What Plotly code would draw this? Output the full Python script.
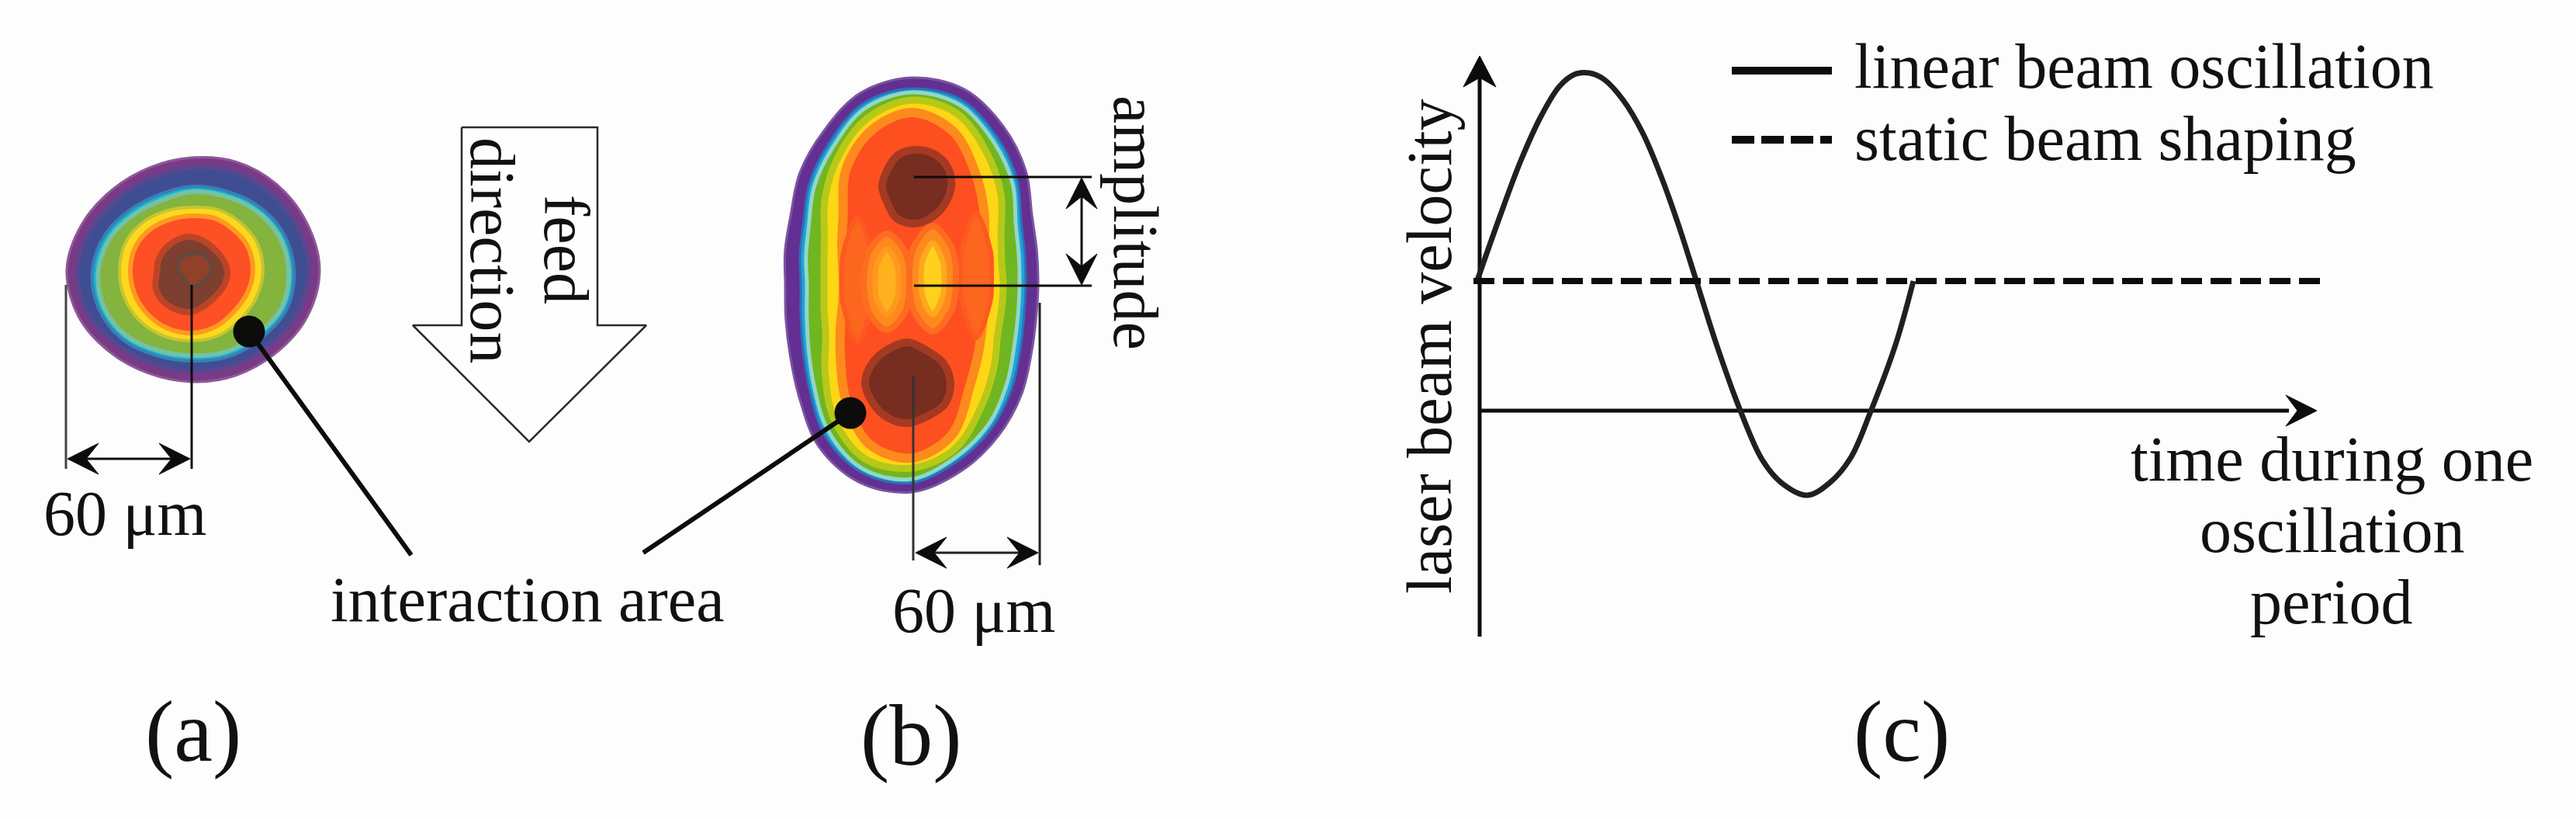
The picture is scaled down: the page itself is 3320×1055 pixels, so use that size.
import numpy as np
import plotly.graph_objects as go

W = 3320
H = 1055
BG = '#fefdfd'
INK = '#0c0c0a'
FONT = 'Liberation Serif'

# spot (a): radii of each colour band, read every 22.5 deg clockwise from east
A_CENTER = (247, 347)
A_PURPLE = [165, 161, 153, 148, 145, 145, 150, 158, 161, 153, 145, 142, 144, 150, 155, 160]
A_BLUE = [152, 148, 140, 135, 132, 132, 137, 146, 148, 140, 132, 129, 131, 137, 142, 147]
A_CYAN = [132, 133, 126, 122, 118, 120, 127, 130, 128, 120, 110, 105, 107, 110, 118, 127]
A_GREEN = [125, 126, 119, 115, 111, 113, 120, 123, 120, 112, 102, 97, 100, 103, 111, 120]
A_YELLOW = [92, 91, 90, 92, 92, 93, 94, 94, 93, 92, 87, 82, 80, 84, 87, 91]
A_RED = [79, 78, 77, 80, 82, 82, 81, 80, 79, 78, 74, 70, 69, 72, 74, 78]
A_DARK_CENTER = (245, 352)
A_DARK = [48, 46, 44, 46, 50, 50, 50, 48, 43, 44, 45, 46, 47, 45, 44, 46]
A_CORE_CENTER = (250, 347)
A_CORE = [22, 20, 18, 20, 22, 20, 18, 18, 20, 22, 22, 20, 20, 22, 22, 22]

# spot (b): same idea, every 15 deg
B_CENTER = (1175, 367)
B_PURPLE = [163, 166, 178, 200, 224, 248, 267, 263, 240, 205, 181, 168, 163, 169, 180, 204, 228, 256, 267, 261, 236, 208, 179, 167]
B_CYAN = [147, 150, 162, 184, 210, 234, 255, 250, 224, 187, 162, 148, 143, 149, 161, 186, 212, 242, 253, 247, 220, 192, 163, 151]
B_GREEN = [139, 142, 153, 175, 203, 228, 250, 245, 216, 179, 154, 140, 135, 141, 153, 178, 204, 235, 248, 240, 212, 184, 155, 143]
B_YELLOW = [118, 120, 128, 150, 180, 218, 236, 232, 200, 158, 128, 117, 113, 117, 130, 158, 190, 222, 238, 228, 195, 163, 133, 120]
B_RED = [95, 97, 105, 122, 150, 200, 223, 212, 170, 130, 106, 92, 88, 92, 104, 125, 170, 205, 222, 205, 165, 132, 108, 97]
B_TOP_CENTER = (1180, 240)
B_TOP = [46, 44, 45, 48, 48, 42, 43, 42, 46, 47, 48, 48]
B_LOW_CENTER = (1170, 493)
B_LOW = [55, 55, 50, 52, 52, 52, 55, 52, 50, 52, 48, 52]
# lighter patches in the middle of (b), every 30 deg
GLOW_CENTERS = [(1105, 360), (1258, 355), (1143, 363), (1202, 359)]
GLOW_OUTER = [[20, 23, 37, 80, 37, 23, 20, 23, 37, 80, 37, 23],
              [20, 23, 37, 80, 37, 23, 20, 23, 37, 80, 37, 23],
              [30, 33, 46, 62, 46, 33, 30, 33, 46, 62, 46, 33],
              [30, 34, 48, 68, 48, 34, 30, 34, 48, 68, 48, 34]]
GLOW_INNER_CENTERS = [(1143, 363), (1202, 359)]
GLOW_INNER = [[15, 17, 26, 42, 26, 17, 15, 17, 26, 42, 26, 17],
              [15, 17, 26, 46, 26, 17, 15, 17, 26, 46, 26, 17]]

# velocity curve of panel (c)
curve_x = [1904, 1933, 1960, 1987, 2010, 2029, 2048, 2067, 2092, 2117, 2140, 2163, 2186, 2212, 2243, 2271, 2296, 2329, 2358, 2385, 2411, 2443, 2466]
curve_y = [361, 279, 207, 148, 111, 96, 94, 102, 129, 171, 225, 289, 361, 443, 529, 592, 622, 638, 622, 590, 530, 444, 362]
static_x = [1899, 2993]
static_y = [362, 362]

# feed direction arrow
feed_x = [595, 770, 770, 833, 682, 532, 595, 595]
feed_y = [164, 164, 419, 419, 569, 419, 419, 164]

# leader lines with their dots
dot_x = [321, 1096]
dot_y = [427, 532]
leader_end_x = [530, 829]
leader_end_y = [715, 712]

texts = ['60 μm', '60 μm', 'interaction area', 'linear beam oscillation', 'static beam shaping',
         'time during one', 'oscillation', 'period']
text_x = [161, 1255, 680, 2388, 2388, 3005, 3006, 3004]
text_y = [661, 786, 772, 85, 178, 591, 683, 775]
text_anchor = ['center', 'center', 'center', 'left', 'left', 'center', 'center', 'center']
rot_texts = ['feed', 'direction', 'amplitude', 'laser beam velocity']
rot_x = [730, 635, 1464, 1842]
rot_y = [321, 322, 287, 446]
rot_angle = [90, 90, 90, -90]
labels = ['(a)', '(b)', '(c)']
label_x = [249, 1174, 2451]
label_y = [942, 947, 942]


def outline(center, radii):
    ang = np.deg2rad(np.arange(len(radii)) * 360 / len(radii))
    r = np.array(radii + radii[:1])
    ang = np.append(ang, 2 * np.pi)
    return center[0] + r * np.cos(ang), center[1] + r * np.sin(ang)


def blob(fig, center, radii, fill, edge, width=5):
    x, y = outline(center, radii)
    fig.add_trace(go.Scatter(x=x, y=y, mode='lines', fill='toself', fillcolor=fill,
                             line=dict(color=edge, width=width, shape='spline', smoothing=1, simplify=False),
                             hoverinfo='skip', showlegend=False))


def seg(fig, x, y, color=INK, width=3, dash=None):
    fig.add_trace(go.Scatter(x=x, y=y, mode='lines', line=dict(color=color, width=width, dash=dash),
                             hoverinfo='skip', showlegend=False))


def head(fig, tip, ux, uy, length=40, half=20, notch=24):
    # tip plus direction the arrow points in
    tx, ty = tip
    px, py = -uy, ux
    x = [tx, tx - ux * length + px * half, tx - ux * notch, tx - ux * length - px * half, tx]
    y = [ty, ty - uy * length + py * half, ty - uy * notch, ty - uy * length - py * half, ty]
    fig.add_trace(go.Scatter(x=x, y=y, mode='lines', fill='toself', fillcolor=INK, line=dict(color=INK, width=1),
                             hoverinfo='skip', showlegend=False))


fig = go.Figure()

# panel (a)
blob(fig, A_CENTER, A_PURPLE, '#7b3a86', '#8d5a98', 3)
blob(fig, A_CENTER, A_BLUE, '#3f4e92', '#5c4690', 6)
blob(fig, A_CENTER, A_CYAN, '#12b4d6', '#3a7fb4', 4)
blob(fig, A_CENTER, A_GREEN, '#84b33e', '#74c2a6', 6)
blob(fig, A_CENTER, A_YELLOW, '#fdd81e', '#c4c630', 4)
blob(fig, A_CENTER, A_RED, '#fd5024', '#fd9a20', 6)
blob(fig, A_DARK_CENTER, A_DARK, '#7c3f30', '#bb4428', 8)
blob(fig, A_CORE_CENTER, A_CORE, '#91402a', '#5f4a42', 4)

# panel (b)
blob(fig, B_CENTER, B_PURPLE, '#632f92', '#7a559f', 3)
blob(fig, B_CENTER, B_CYAN, '#1aa4da', '#2f6fb6', 3)
blob(fig, B_CENTER, B_GREEN, '#6fb620', '#93d6c8', 5)
blob(fig, B_CENTER, B_YELLOW, '#fdd616', '#b8c818', 9)
blob(fig, B_CENTER, B_RED, '#fd4f20', '#fd8a1c', 12)
for c, r in zip(GLOW_CENTERS[:2], GLOW_OUTER[:2]):
    blob(fig, c, r, '#fc661f', '#fc5a20', 6)
for c, r in zip(GLOW_CENTERS[2:], GLOW_OUTER[2:]):
    blob(fig, c, r, '#fe8a1e', '#fd6c20', 8)
blob(fig, GLOW_INNER_CENTERS[0], GLOW_INNER[0], '#ffb21e', '#ff981e', 7)
blob(fig, GLOW_INNER_CENTERS[1], GLOW_INNER[1], '#ffd01e', '#ffa81e', 7)
blob(fig, B_TOP_CENTER, B_TOP, '#772d20', '#a43a22', 10)
blob(fig, B_LOW_CENTER, B_LOW, '#772d20', '#a43a22', 10)

# dimension lines (a)
seg(fig, [85, 85], [367, 604], '#444444', 3)
seg(fig, [247, 247], [367, 604], INK, 3)
seg(fig, [100, 235], [591, 591], INK, 3)
head(fig, (87, 591), -1, 0)
head(fig, (245, 591), 1, 0)

# dimension lines (b)
seg(fig, [1178, 1407], [228, 228], INK, 3)
seg(fig, [1178, 1407], [368, 368], INK, 3)
seg(fig, [1394, 1394], [245, 350], INK, 3)
head(fig, (1394, 229), 0, -1)
head(fig, (1394, 367), 0, 1)
seg(fig, [1177, 1177], [484, 722], '#333333', 3)
seg(fig, [1340, 1340], [390, 728], '#222222', 3)
seg(fig, [1195, 1325], [712, 712], '#222222', 3)
head(fig, (1180, 712), -1, 0)
head(fig, (1338, 712), 1, 0)

# leaders and dots
for i in range(2):
    seg(fig, [dot_x[i], leader_end_x[i]], [dot_y[i], leader_end_y[i]], INK, 6)
fig.add_trace(go.Scatter(x=dot_x, y=dot_y, mode='markers', marker=dict(color=INK, size=41, line=dict(width=0)),
                         hoverinfo='skip', showlegend=False))

# feed arrow
fig.add_trace(go.Scatter(x=feed_x, y=feed_y, mode='lines', fill='toself', fillcolor='#fefefe',
                         line=dict(color='#2a2a2a', width=2.5), hoverinfo='skip', showlegend=False))

# panel (c) axes and curves
seg(fig, [1907, 1907], [820, 90], INK, 5)
head(fig, (1907, 72), 0, -1, length=40, half=21, notch=28)
seg(fig, [1907, 2950], [529, 529], INK, 5)
head(fig, (2986, 529), 1, 0, length=40, half=20, notch=25)
fig.add_trace(go.Scatter(x=curve_x, y=curve_y, mode='lines', line=dict(color='#221f1c', width=7, shape='spline', simplify=False),
                         hoverinfo='skip', showlegend=False))
seg(fig, static_x, static_y, INK, 8, '27px,11px')
seg(fig, [2232, 2361], [91, 91], INK, 10)
seg(fig, [2232, 2361], [180, 180], INK, 10, '29px,9px')

for t, x, y, a in zip(texts, text_x, text_y, text_anchor):
    fig.add_annotation(x=x, y=y, text=t, showarrow=False, xanchor=a, yanchor='middle',
                       font=dict(family=FONT, size=82, color='#111111'))
for t, x, y, a in zip(rot_texts, rot_x, rot_y, rot_angle):
    fig.add_annotation(x=x, y=y, text=t, showarrow=False, textangle=a,
                       font=dict(family=FONT, size=82, color='#111111'))
for t, x, y in zip(labels, label_x, label_y):
    fig.add_annotation(x=x, y=y, text=t, showarrow=False,
                       font=dict(family=FONT, size=112, color='#111111'))

fig.update_layout(width=W, height=H, margin=dict(l=0, r=0, t=0, b=0), paper_bgcolor=BG, plot_bgcolor=BG,
                  xaxis=dict(range=[0, W], visible=False, fixedrange=True),
                  yaxis=dict(range=[H, 0], visible=False, fixedrange=True))

fig.write_html("out.html", config=dict(displayModeBar=False), post_script="document.body.style.margin='0';")
